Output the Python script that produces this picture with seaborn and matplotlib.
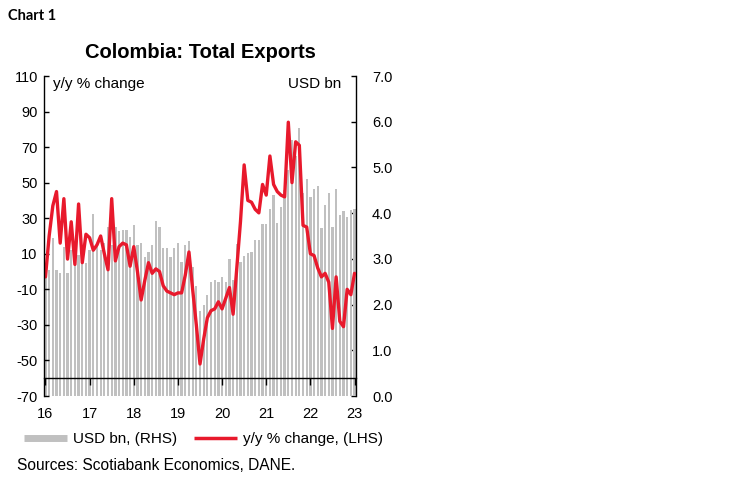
import matplotlib
matplotlib.use('Agg')
import matplotlib.pyplot as plt
import seaborn as sns
import numpy as np
import pandas as pd
from matplotlib.lines import Line2D
from matplotlib.ticker import FormatStrFormatter

# ---- data ----
yoy_change = [
    -3, 20, 37, 45, 16, 41, 7, 28, 4, 38, 5, 21,
    19, 12, 15, 20, 10, 1, 41, 6, 14, 16, 15, 3,
    14, 0, -16, -5, 5, -1, 1.5, 0, -8, -11, -12, -13,
    -12, -12, -2, 11, -10, -30, -52, -38, -26, -22, -21, -17,
    -21, -15, -9, -24, 2, 28, 60, 40, 39, 35, 33, 49,
    43, 65, 49, 45, 43, 42, 84, 50, 73, 71, 26, 25,
    10, 9, 2, -3, -1, -6, -32, -3, -28, -31, -10, -13,
    -1,
]
exports_usd_bn = [
    2.79, 2.75, 3.45, 2.76, 2.68, 3.27, 2.68, 3.20, 2.87, 3.09, 3.09, 2.90,
    3.20, 3.98, 3.30, 3.20, 3.35, 3.70, 3.30, 3.70, 3.60, 3.63, 3.64, 3.48,
    3.74, 3.30, 3.35, 3.05, 3.14, 3.30, 3.83, 3.70, 3.24, 3.24, 3.05, 3.24,
    3.35, 2.94, 3.30, 3.38, 2.83, 2.40, 1.85, 2.00, 2.22, 2.50, 2.53, 2.50,
    2.61, 2.50, 2.99, 2.54, 3.33, 2.94, 3.06, 3.13, 3.14, 3.41, 3.42, 3.76,
    3.76, 4.10, 4.40, 3.78, 4.14, 4.50, 4.95, 5.60, 5.24, 5.87, 4.43, 4.74,
    4.36, 4.52, 4.60, 3.67, 4.18, 4.43, 3.70, 4.52, 3.96, 4.05, 3.92, 4.07,
    4.10,
]
year_labels = ['16', '17', '18', '19', '20', '21', '22', '23']
lhs_ticks = list(range(-70, 111, 20))
rhs_ticks = [0, 1, 2, 3, 4, 5, 6, 7]

RED = '#e8192c'
GREY = '#c0c0c0'

sns.set_theme(style='white')
plt.rcParams['font.family'] = ['Liberation Sans', 'DejaVu Sans']
plt.rcParams['axes.unicode_minus'] = False
plt.rcParams['text.color'] = 'black'

n = len(yoy_change)
df = pd.DataFrame({'idx': np.arange(n), 'yoy': yoy_change, 'usd': exports_usd_bn})

W, H = 748, 483
fig = plt.figure(figsize=(W / 100, H / 100), dpi=100)
ax = fig.add_axes([44 / W, 1 - 396 / H, 312 / W, 320 / H])
ax2 = ax.twinx()

sns.barplot(data=df, x='idx', y='usd', native_scale=True, ax=ax2, color=GREY,
            width=0.62, saturation=1, errorbar=None, edgecolor='none', linewidth=0)
sns.lineplot(data=df, x='idx', y='yoy', ax=ax, color=RED, linewidth=2.4)

ax.set_zorder(ax2.get_zorder() + 1)
ax.patch.set_visible(False)

ax.set_xlim(-0.4, n - 1 + 0.4)
ax.set_ylim(-70, 110)
ax2.set_ylim(0, 7)

ax.set_xlabel('')
ax.set_ylabel('')
ax2.set_xlabel('')
ax2.set_ylabel('')

ax.set_yticks(lhs_ticks)
ax.set_xticks(np.arange(0, n, 12))
ax.set_xticklabels(year_labels)
ax2.set_yticks(rhs_ticks)
ax2.yaxis.set_major_formatter(FormatStrFormatter('%.1f'))

for s in ['top', 'right']:
    ax.spines[s].set_visible(False)
ax.spines['bottom'].set_position(('data', -60))
for s in ['left', 'bottom']:
    ax.spines[s].set_color('black')
    ax.spines[s].set_linewidth(1.0)
for s in ['top', 'left', 'bottom']:
    ax2.spines[s].set_visible(False)
ax2.spines['right'].set_color('black')
ax2.spines['right'].set_linewidth(1.0)

ax.tick_params(axis='y', direction='in', length=3.5, width=1, pad=4.5,
               labelsize=10.5, left=True, colors='black')
ax.tick_params(axis='x', direction='out', length=5, width=1, pad=16,
               labelsize=10.5, bottom=True, colors='black')
ax2.tick_params(axis='y', direction='in', length=3.5, width=1, pad=11.5,
                labelsize=10.5, right=True, colors='black')

fig.text(53 / W, 1 - 84 / H, 'y/y % change', fontsize=11, ha='left', va='center')
fig.text(341 / W, 1 - 84 / H, 'USD bn', fontsize=11, ha='right', va='center')
fig.text(200 / W, 1 - 53 / H, 'Colombia: Total Exports', fontsize=14.5,
         fontweight='bold', ha='center', va='center')
fig.text(8 / W, 1 - 16 / H, 'Chart 1', fontsize=10.5, fontweight='bold',
         ha='left', va='center', family=['Lato', 'DejaVu Sans'])
fig.text(17 / W, 1 - 465 / H, 'Sources: Scotiabank Economics, DANE.',
         fontsize=11.2, ha='left', va='center')

handles = [Line2D([], [], color=GREY, lw=5, solid_capstyle='butt'),
           Line2D([], [], color=RED, lw=2.5, solid_capstyle='butt')]
fig.legend(handles, ['USD bn, (RHS)', 'y/y % change, (LHS)'], loc='center left',
           bbox_to_anchor=(24 / W, 1 - 439 / H), ncol=2, frameon=False,
           handlelength=2.8, handletextpad=0.4, columnspacing=1.1,
           borderpad=0, borderaxespad=0, fontsize=11)

fig.savefig('out.png', dpi=100)
